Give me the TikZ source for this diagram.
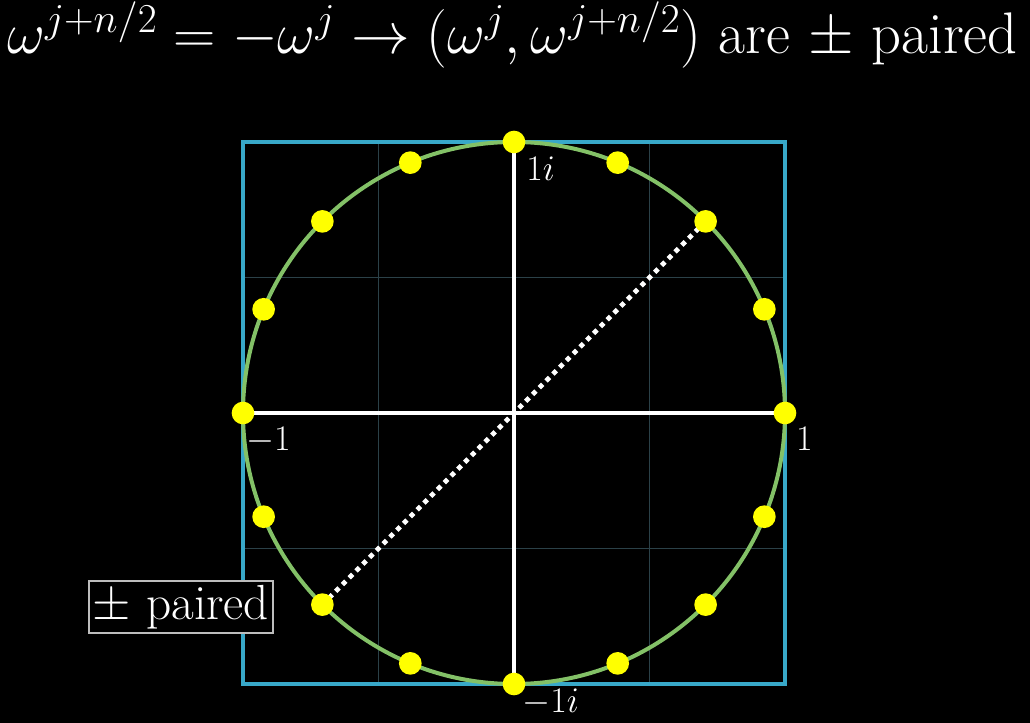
\RequirePackage{fix-cm}
\documentclass[tikz,border=0pt]{standalone}
\usepackage{tikz}
\usetikzlibrary{positioning}
\definecolor{bg}{HTML}{000000}
\definecolor{frame}{HTML}{38A8C9}
\definecolor{ring}{HTML}{83C167}
\definecolor{gridc}{HTML}{2B4148}
\definecolor{rootc}{HTML}{FFFF00}
\definecolor{tagc}{HTML}{BDBDBD}
\tikzset{
  axis/.style={draw=white,line width=3pt},
  gridline/.style={draw=gridc,line width=1pt},
  root/.style={circle,fill=rootc,inner sep=0pt,minimum size=17pt},
  numlabel/.style={text=white,font=\fontsize{27}{30}\selectfont,inner sep=2pt},
  pairline/.style={draw=white,line width=3.6pt,dash pattern=on 3.6pt off 3.6pt}
}
\begin{document}
\begin{tikzpicture}[x=0.75pt,y=0.75pt]
  \fill[bg] (-514,-310) rectangle (516,413);
  \useasboundingbox (-514,-310) rectangle (516,413);
  % roots of unity
  \foreach \k in {0,...,15}
    \coordinate (p\k) at (\k*22.5:271);
  % faint grid
  \foreach \t in {-135.5,135.5} {
    \draw[gridline] (\t,-271) -- (\t,271);
    \draw[gridline] (-271,\t) -- (271,\t);
  }
  \draw[draw=frame,line width=3pt] (-271,-271) rectangle (271,271);
  \draw[draw=ring,line width=3pt] (0,0) circle[radius=271];
  \draw[axis] (p8) -- (p0);
  \draw[axis] (p12) -- (p4);
  \draw[pairline] (p2) -- (p10);
  \foreach \k in {0,...,15}
    \node[root] (w\k) at (p\k) {};
  % axis labels
  \node[numlabel,below right=3pt and 1pt of w4] (im) {$1i$};
  \node[numlabel,below right=-5pt and -2pt of w12] (mim) {$-1i$};
  \node[numlabel,below right=2pt and -6pt of w8] (mre) {$-1$};
  \node[numlabel,below right=2pt and 0pt of w0] (re) {$1$};
  % tag
  \node[draw=tagc,line width=1.2pt,fill=bg,text=white,inner sep=3pt,
        font=\fontsize{37}{42}\selectfont] (tag) at (-333,-194) {$\pm$ paired};
  % title
  \node[text=white,inner sep=0pt,font=\fontsize{44}{50}\selectfont] (title) at (-1.5,378)
    {$\omega^{j+n/2} = -\omega^j \rightarrow (\omega^j, \omega^{j+n/2})$ are $\pm$ paired};
\end{tikzpicture}
\end{document}
